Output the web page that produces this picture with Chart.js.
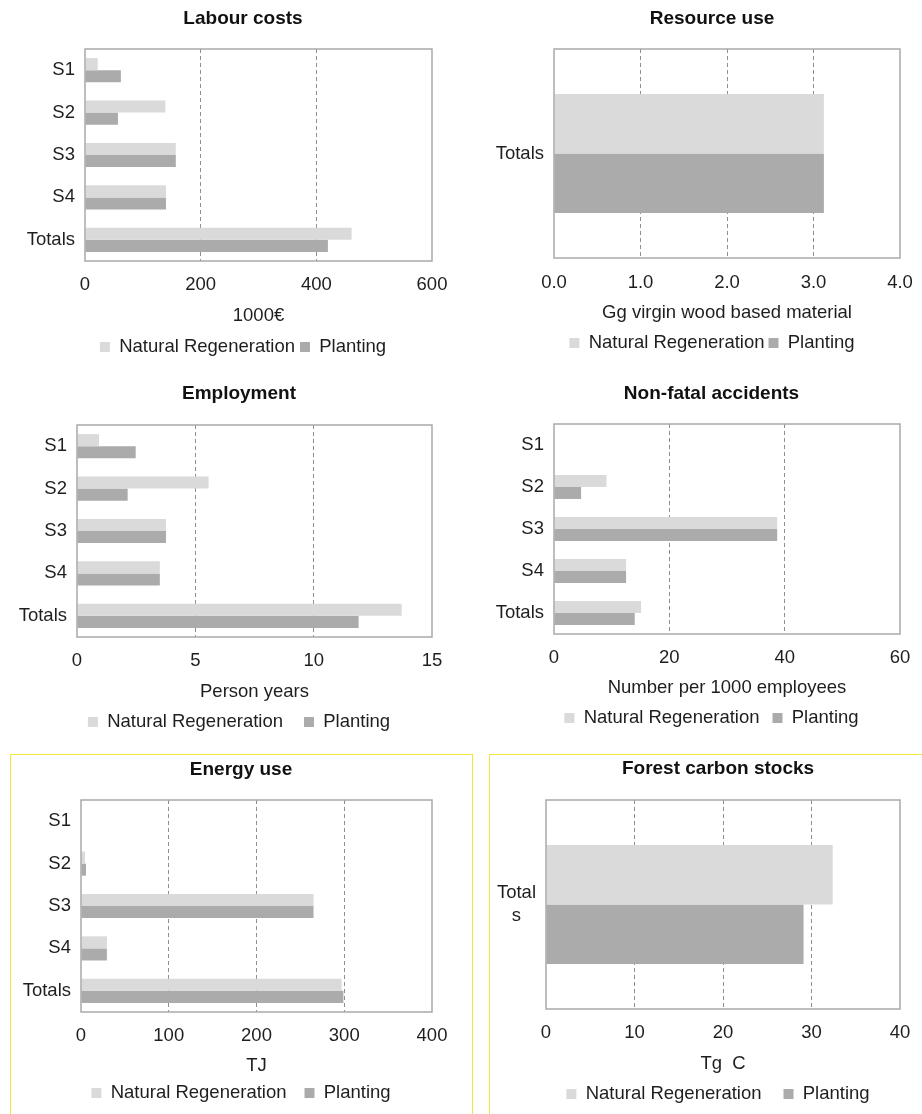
<!DOCTYPE html>
<html>
<head>
<meta charset="utf-8">
<script src="https://cdn.jsdelivr.net/npm/chart.js@4.4.1/dist/chart.umd.min.js"></script>
<style>
  html, body { margin: 0; padding: 0; background: #fff; }
  body { width: 922px; height: 1114px; position: relative; overflow: hidden; }
  canvas { position: absolute; }
  .frame { position: absolute; border: 1.5px solid #f2e53c; }
</style>
</head>
<body>
<div class="frame" style="left:10px;top:754px;width:461px;height:420px;"></div>
<div class="frame" style="left:489px;top:754px;width:460px;height:420px;"></div>
<canvas id="chart-labour"></canvas>
<canvas id="chart-resource"></canvas>
<canvas id="chart-employment"></canvas>
<canvas id="chart-accidents"></canvas>
<canvas id="chart-energy"></canvas>
<canvas id="chart-carbon"></canvas>
<script>
// ---- data ----
const SERIES = ["Natural Regeneration", "Planting"];
const SCENARIOS = ["S1", "S2", "S3", "S4", "Totals"];
const TOTALS_ONLY = ["Totals"];
const TOTALS_WRAPPED = [["Total", "s"]];

const labourNatural = [22, 139, 157, 140, 461];
const labourPlanting = [62, 57, 157, 140, 420];

const resourceNatural = [3.12];
const resourcePlanting = [3.12];

const employmentNatural = [0.93, 5.56, 3.76, 3.5, 13.72];
const employmentPlanting = [2.48, 2.14, 3.76, 3.5, 11.9];

const accidentsNatural = [0, 9.1, 38.7, 12.5, 15.1];
const accidentsPlanting = [0, 4.7, 38.7, 12.5, 14.0];

const energyNatural = [0, 4.5, 265, 29.5, 297];
const energyPlanting = [0.6, 5.7, 265, 29.5, 299];

const carbonNatural = [32.4];
const carbonPlanting = [29.1];

// ---- look ----
const FONT = "'Liberation Sans', Arial, sans-serif";
const FS = 18.5;
const LH = FS * 1.2;
const TITLE_FS = 19;
const COR_NATURAL = "#dadada";
const COR_PLANTING = "#ababab";
const TEXTO = "#1e1e1e";
const Y_AXIS_W = 66;

// moldura cinza em volta da área do gráfico (estilo Excel)
const plotFrame = {
  id: "plotFrame",
  afterDatasetsDraw(chart) {
    const { ctx, chartArea: a } = chart;
    ctx.save();
    ctx.strokeStyle = "#a9a9a9";
    ctx.lineWidth = 1.5;
    ctx.strokeRect(a.left, a.top, a.right - a.left, a.bottom - a.top);
    ctx.restore();
  },
};

// g = posições-alvo na página (px); daqui saem paddings/alturas fixas.
// um eixo invisível à direita deixa o título/legenda centrarem onde o
// original centra, sem mexer na borda direita do gráfico
function painel(id, g, labels, natural, planting, eixo) {
  const canvas = document.getElementById(id);
  const L = g.plotL - Y_AXIS_W;
  const Rfull = 2 * g.titleX - L;
  const padR = 20;
  const W = Math.ceil(Rfull + padR - g.x0);
  const padL = L - g.x0;
  const rightW = Rfull - g.plotR;

  const hx = g.legendY - g.plotB - g.gap - FS / 2;         // altura do eixo x
  const legendH = FS + g.gap + 10;
  const H = Math.ceil(g.plotB - g.y0 + hx + legendH + 4);
  canvas.width = W;
  canvas.height = H;
  canvas.style.left = g.x0 + "px";
  canvas.style.top = g.y0 + "px";

  const tLH = TITLE_FS * 1.2;
  const tTop = g.titleY - g.y0 - tLH / 2;
  const tBot = g.plotT - g.y0 - tTop - tLH;
  const padB = H - (g.plotB - g.y0) - hx - legendH;

  new Chart(canvas.getContext("2d"), {
    type: "bar",
    data: {
      labels,
      datasets: [
        { label: SERIES[0], data: natural, backgroundColor: COR_NATURAL, borderWidth: 0 },
        { label: SERIES[1], data: planting, backgroundColor: COR_PLANTING, borderWidth: 0 },
      ],
    },
    options: {
      indexAxis: "y",
      responsive: false,
      animation: false,
      events: [],
      categoryPercentage: 0.57,
      barPercentage: 1,
      layout: { padding: { left: padL, right: padR, top: 0, bottom: padB } },
      scales: {
        y: {
          afterFit: (s) => { s.width = Y_AXIS_W; },
          grid: { display: false, drawTicks: false },
          border: { display: false },
          ticks: {
            padding: 10,
            crossAlign: g.crossAlign || "near",
            color: TEXTO,
            font: { family: FONT, size: FS },
          },
        },
        x: {
          min: 0,
          max: eixo.max,
          afterFit: (s) => { s.height = hx; },
          ticks: {
            stepSize: eixo.step,
            padding: g.tickY - g.plotB - LH / 2,
            color: TEXTO,
            font: { family: FONT, size: FS },
            callback: (v) => eixo.decimals ? Number(v).toFixed(eixo.decimals) : v,
          },
          grid: {
            drawTicks: false,
            lineWidth: 1,
            color: (c) => (c.tick && (c.tick.value === 0 || c.tick.value === eixo.max)) ? "rgba(0,0,0,0)" : "#8f8f8f",
          },
          border: { display: false, dash: [4, 3] },
          title: {
            display: true,
            text: eixo.title,
            color: TEXTO,
            font: { family: FONT, size: FS },
            padding: { top: 0, bottom: g.plotB + hx - LH / 2 - g.axisTitleY },
          },
        },
        yRight: {
          type: "linear",
          axis: "y",
          position: "right",
          afterFit: (s) => { s.width = rightW; },
          grid: { display: false, drawTicks: false },
          border: { display: false },
          ticks: { display: false },
        },
      },
      plugins: {
        title: {
          display: true,
          text: g.title,
          color: "#111",
          font: { family: FONT, size: TITLE_FS, weight: "bold" },
          padding: { top: tTop, bottom: tBot },
        },
        legend: {
          position: "bottom",
          labels: {
            boxWidth: 10,
            boxHeight: 10,
            padding: g.gap,
            color: TEXTO,
            font: { family: FONT, size: FS },
          },
        },
        tooltip: { enabled: false },
      },
    },
    plugins: [plotFrame],
  });
}

painel("chart-labour",
  { title: "Labour costs", x0: 0, y0: 0, plotL: 85, plotR: 432, plotT: 49, plotB: 261,
    titleX: 243, titleY: 19, tickY: 285, axisTitleY: 316, legendY: 347, gap: 5 },
  SCENARIOS, labourNatural, labourPlanting, { max: 600, step: 200, title: "1000€" });

painel("chart-resource",
  { title: "Resource use", x0: 461, y0: 0, plotL: 554, plotR: 900, plotT: 49, plotB: 258,
    titleX: 712, titleY: 18.5, tickY: 283, axisTitleY: 313, legendY: 343, gap: 4 },
  TOTALS_ONLY, resourceNatural, resourcePlanting,
  { max: 4, step: 1, decimals: 1, title: "Gg virgin wood based material" });

painel("chart-employment",
  { title: "Employment", x0: 0, y0: 370, plotL: 77, plotR: 432, plotT: 425, plotB: 637,
    titleX: 239, titleY: 394, tickY: 661, axisTitleY: 692, legendY: 722, gap: 21 },
  SCENARIOS, employmentNatural, employmentPlanting, { max: 15, step: 5, title: "Person years" });

painel("chart-accidents",
  { title: "Non-fatal accidents", x0: 461, y0: 370, plotL: 554, plotR: 900, plotT: 424, plotB: 634,
    titleX: 711.5, titleY: 394, tickY: 658, axisTitleY: 688, legendY: 718, gap: 13 },
  SCENARIOS, accidentsNatural, accidentsPlanting,
  { max: 60, step: 20, title: "Number per 1000 employees" });

painel("chart-energy",
  { title: "Energy use", x0: 0, y0: 740, plotL: 81, plotR: 432, plotT: 800, plotB: 1012,
    titleX: 241, titleY: 770, tickY: 1036, axisTitleY: 1066, legendY: 1093, gap: 18 },
  SCENARIOS, energyNatural, energyPlanting, { max: 400, step: 100, title: "TJ" });

painel("chart-carbon",
  { title: "Forest carbon stocks", x0: 461, y0: 740, plotL: 546, plotR: 900, plotT: 800, plotB: 1009,
    titleX: 718, titleY: 769, tickY: 1033, axisTitleY: 1064, legendY: 1094, gap: 22, crossAlign: "center" },
  TOTALS_WRAPPED, carbonNatural, carbonPlanting, { max: 40, step: 10, title: "Tg  C" });
</script>
</body>
</html>
